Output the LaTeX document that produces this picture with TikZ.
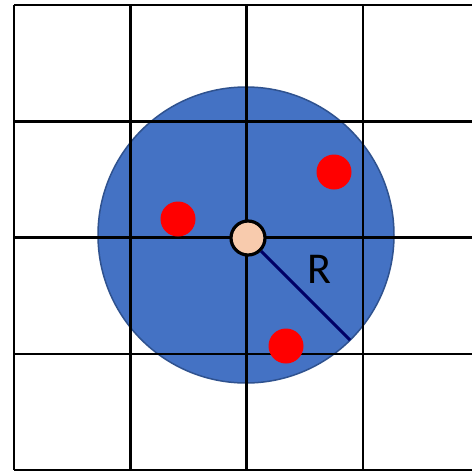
\documentclass[tikz,border=0pt]{standalone}
\usepackage{fontspec}
\setmainfont{Carlito}
\usetikzlibrary{positioning, calc}
\definecolor{discblue}{RGB}{68, 114, 196}
\definecolor{discedge}{RGB}{47, 82, 143}
\definecolor{sitepeach}{RGB}{248, 203, 173}
\definecolor{radiusnavy}{RGB}{0, 0, 102}
\tikzset{
  gridline/.style={black, line width=2.5pt},
  pointdot/.style={circle, fill=red, inner sep=0pt, minimum size=35pt},
  sitedot/.style={circle, draw=black, fill=sitepeach, line width=3.2pt, inner sep=0pt, minimum size=34pt},
}

\begin{document}
\begin{tikzpicture}[x=1pt, y=-1pt]
    \useasboundingbox (0,0) rectangle (472,472);
    % Grid
    \begin{scope}
      \clip (0,0) rectangle (472,472);
      \foreach \c in {0,1,2,3,4} {
        \draw[gridline] (14+116.3*\c,5) -- (14+116.3*\c,470);
      }
      \foreach \r in {0,1,2,3,4} {
        \draw[gridline] (14,5+116.3*\r) -- (490,5+116.3*\r);
      }
    \end{scope}
    % Disc of radius R
    \fill[discblue] (246,235) circle (148);
    \draw[discedge, line width=1.5pt] (246,235) circle (148);
    % Grid lines over the disc
    \foreach \c in {1,2,3} {
      \draw[gridline] (14+116.3*\c,86) -- (14+116.3*\c,384);
    }
    \foreach \r in {1,2,3} {
      \draw[gridline] (97,5+116.3*\r) -- (395,5+116.3*\r);
    }
    % Points inside the disc
    \node[pointdot] (p1) at (178,219) {};
    \node[pointdot] (p2) at (334,172) {};
    \node[pointdot] (p3) at (286,346) {};
    % Radius
    \coordinate (rim) at (350,340);
    \node[sitedot] (site) at (248,238) {};
    \draw[radiusnavy, line width=3pt] (site) -- (rim);
    \node[font=\fontsize{44}{44}\selectfont, inner sep=0pt] (rlabel) at (319,269) {R};
\end{tikzpicture}
\end{document}
